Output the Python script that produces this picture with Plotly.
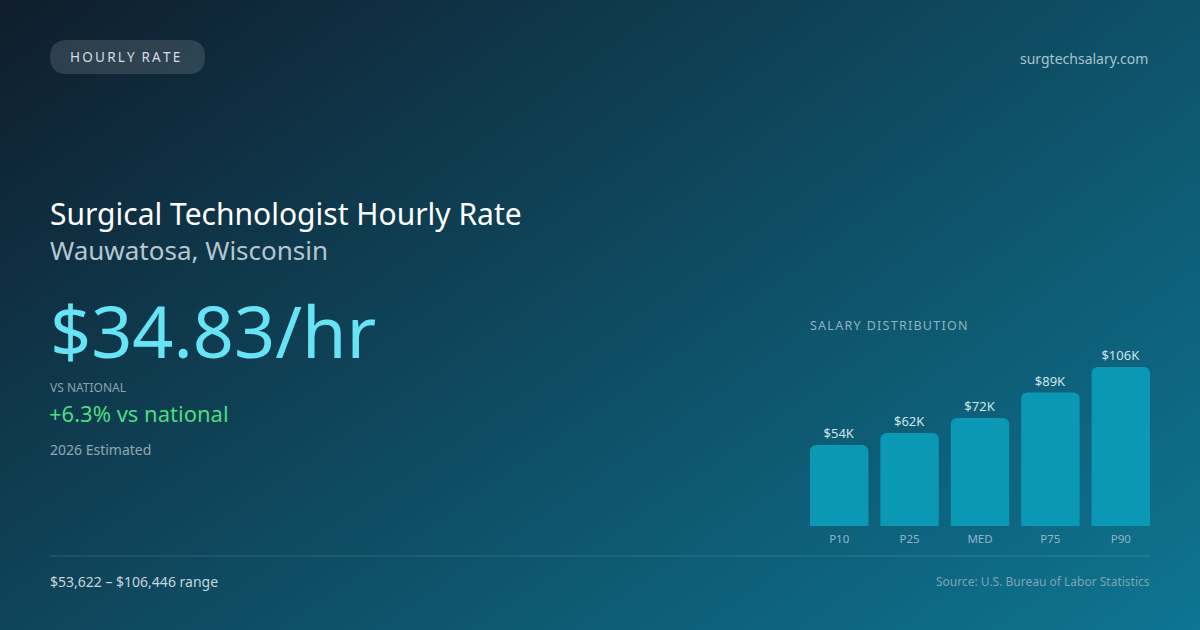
import plotly.graph_objects as go

W, H = 1200, 630

# Salary distribution (annual, $K)
percentiles = ["P10", "P25", "MED", "P75", "P90"]
salaries_k = [54, 62, 72, 89, 106]
bar_labels = ["$54K", "$62K", "$72K", "$89K", "$106K"]

# Headline figures
title = "Surgical Technologist Hourly Rate"
location = "Wauwatosa, Wisconsin"
hourly_rate = "$34.83/hr"
vs_national = "+6.3% vs national"
year_note = "2026 Estimated"
range_note = "$53,622 – $106,446 range"
source_note = "Source: U.S. Bureau of Labor Statistics"
site = "surgtechsalary.com"

FONT = "Noto Sans"


def py(p):
    # pixel from top -> paper y
    return 1 - p / H


def px(p):
    return p / W


def spaced(s, sep="\u2009"):
    return sep.join(s)


fig = go.Figure()

# gradient background (bilinear over the 4 corners), on the first subplot so it sits underneath
fig.add_trace(go.Heatmap(
    z=[[0.45, 1.0], [0.0, 0.6]],
    x=[0, 1], y=[0, 1],
    zsmooth="best", showscale=False, hoverinfo="skip",
    colorscale=[[0, "#0f1d2c"], [1, "#0e7592"]], zmin=0, zmax=1,
    xaxis="x", yaxis="y",
))

# salary bars
fig.add_trace(go.Bar(
    x=percentiles, y=salaries_k,
    marker=dict(color="#0b98b5", line=dict(width=0)),
    text=bar_labels, textposition="outside", cliponaxis=False,
    textfont=dict(family=FONT, size=13, color="#cfe4eb"),
    hoverinfo="skip", xaxis="x2", yaxis="y2",
))

base = 526
top = base - 120 * 1.5

fig.update_layout(
    width=W, height=H,
    margin=dict(l=0, r=0, t=0, b=0),
    paper_bgcolor="#0f3b4f", plot_bgcolor="rgba(0,0,0,0)",
    showlegend=False,
    bargap=0.17, barcornerradius=6,
    xaxis=dict(domain=[0, 1], range=[0, 1], visible=False, fixedrange=True),
    yaxis=dict(domain=[0, 1], range=[0, 1], visible=False, fixedrange=True),
    xaxis2=dict(domain=[px(804), px(1156)], anchor="y2", showgrid=False, zeroline=False,
                showline=False, ticks="", ticklabelstandoff=4,
                tickfont=dict(family=FONT, size=11.5, color="#8fb6c4"),
                fixedrange=True),
    yaxis2=dict(domain=[py(base), py(top)], anchor="x2", range=[0, 120], showgrid=False,
                zeroline=False, showticklabels=False, fixedrange=True),
)

# pill badge
x0, x1, y0, y1, r = 50, 205, 40, 74, 17
fig.add_shape(
    type="path", xref="paper", yref="paper",
    path=(f"M {px(x0 + r)} {py(y0)} L {px(x1 - r)} {py(y0)} "
          f"Q {px(x1)} {py(y0)} {px(x1)} {py(y0 + r)} "
          f"Q {px(x1)} {py(y1)} {px(x1 - r)} {py(y1)} "
          f"L {px(x0 + r)} {py(y1)} "
          f"Q {px(x0)} {py(y1)} {px(x0)} {py(y0 + r)} "
          f"Q {px(x0)} {py(y0)} {px(x0 + r)} {py(y0)} Z"),
    fillcolor="rgba(255,255,255,0.13)", line=dict(width=0), layer="above",
)

# divider
fig.add_shape(type="line", xref="paper", yref="paper",
              x0=px(50), x1=px(1150), y0=py(556), y1=py(556),
              line=dict(color="rgba(255,255,255,0.15)", width=1))


def label(text, x, y, size, color, anchor="left"):
    fig.add_annotation(
        text=text, x=px(x), y=py(y), xref="paper", yref="paper",
        xanchor=anchor, yanchor="middle", showarrow=False,
        font=dict(family=FONT, size=size, color=color),
    )


label(spaced("HOURLY") + "\u2002" + spaced("RATE"), 68, 57, 13.5, "#d3dce2")
label(site, 1150, 58, 14, "#a8c3cd", anchor="right")
label(title, 48, 213, 30, "#ffffff")
label(location, 48, 250, 26, "#b6c7d1")
label(hourly_rate, 48, 330, 72, "#67e3f6")
label("VS NATIONAL", 48, 387, 12, "#8ea2ae")
label(vs_national, 47, 413, 22, "#4ade80")
label(year_note, 48, 449, 14, "#93a6b1")
label(spaced("SALARY", "\u200a") + "\u2002" + spaced("DISTRIBUTION", "\u200a"),
      808, 325, 12.5, "#8fb3c1")
label(range_note, 48, 581, 14, "#c7d5dc")
label(source_note, 1152, 581, 12, "#7fa4b3", anchor="right")

fig.write_html("out.html", config={"displayModeBar": False},
               post_script="document.body.style.margin='0';")
